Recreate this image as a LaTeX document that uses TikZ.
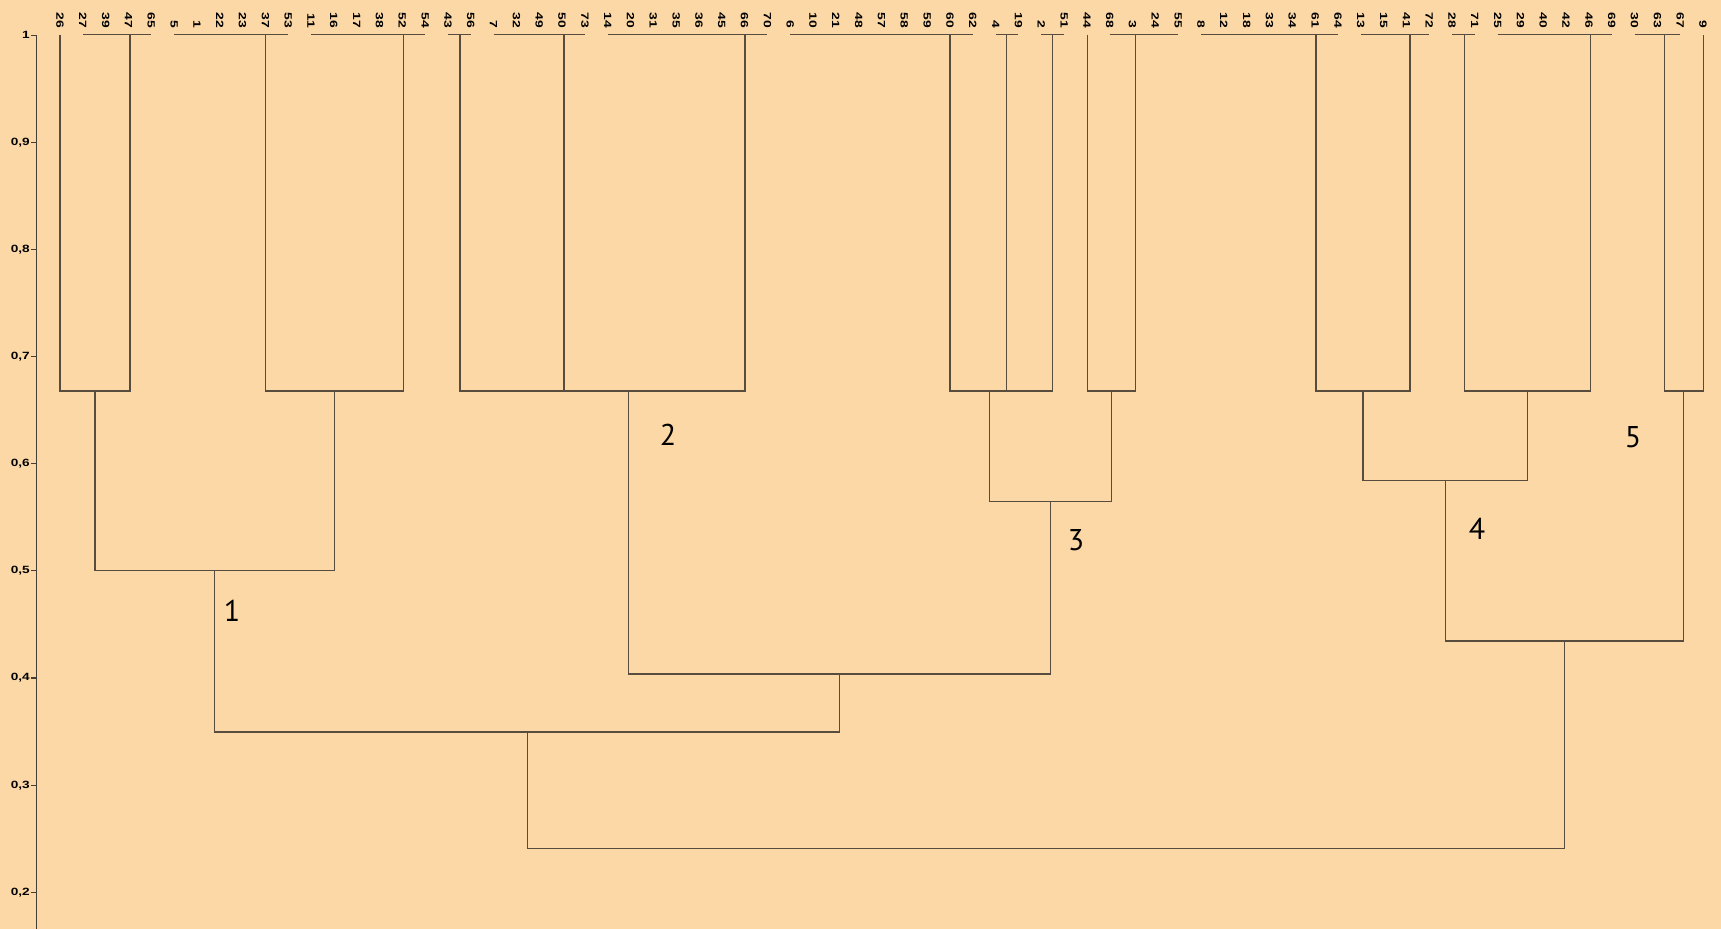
\documentclass[tikz,border=0pt]{standalone}
\usepackage{graphicx}
\usepackage{fontspec}
\newfontfamily\lblfont{Liberation Sans}
\newfontfamily\clfont{PT Sans}
\definecolor{bg}{RGB}{252,216,166}
\definecolor{ln}{RGB}{88,76,62}
\definecolor{axc}{RGB}{70,62,52}
\tikzset{
  leaf/.style={rotate=-90, anchor=east, inner sep=0pt, text=black,
    font=\lblfont\bfseries\fontsize{10.5}{11}\selectfont},
  axlab/.style={anchor=east, inner sep=0pt, text=black,
    font=\lblfont\bfseries\fontsize{10.5}{11}\selectfont},
  cllab/.style={inner sep=0pt, text=black, font=\clfont\fontsize{30}{32}\selectfont},
  link/.style={draw=ln, line width=1.1pt},
  axis/.style={draw=axc, line width=1.2pt}
}
\begin{document}
\begin{tikzpicture}[x=1pt,y=-1pt]
\fill[bg] (0,0) rectangle (1721,929);
\useasboundingbox (0,0) rectangle (1721,929);
% leaves
\foreach \lab [count=\i from 0] in {26,27,39,47,65,5,1,22,23,37,53,11,16,17,38,52,54,43,56,7,32,49,50,73,14,20,31,35,36,45,66,70,6,10,21,48,57,58,59,60,62,4,19,2,51,44,68,3,24,55,8,12,18,33,34,61,64,13,15,41,72,28,71,25,29,40,42,46,69,30,63,67,9}{
  \node[leaf] (leaf\i) at ({60+22.82*\i},28) {\scalebox{1.32}[1]{\lab}};
  \coordinate (b\i) at ({60+22.82*\i},34.5);
}
% level-1 groups
\foreach \k/\a/\b/\vx in {1/0/0/60, 2/1/4/130, 3/5/10/265.7, 4/11/16/403.3, 5/17/18/460, 6/19/23/564, 7/24/31/745, 8/32/40/950, 9/41/42/1006.7, 10/43/44/1052.7, 11/45/45/1087.3, 12/46/49/1135.5, 13/50/56/1316, 14/57/60/1410, 15/61/62/1464.3, 16/63/68/1590.7, 17/69/71/1664.3, 18/72/72/1703.3}{
  \coordinate (g\k) at (\vx,34.5);
  \ifnum\a<\b \draw[link] (b\a) -- (b\b); \fi
}
% merge points
\coordinate (A) at (95,391);
\coordinate (B) at (334.5,391);
\coordinate (C1) at (512,391);
\coordinate (C) at (628.5,391);
\coordinate (D1) at (1029.7,391);
\coordinate (D) at (989.85,391);
\coordinate (E) at (1111.4,391);
\coordinate (F) at (1363,391);
\coordinate (G) at (1527.5,391);
\coordinate (H) at (1683.8,391);
\coordinate (AB) at (214.75,570.7);
\coordinate (DE) at (1050.6,501.6);
\coordinate (FG) at (1445.25,480.7);
\coordinate (FGH) at (1564.5,641);
\coordinate (CDE) at (839.5,674);
\coordinate (ABCDE) at (527.1,732);
\coordinate (R) at (1045.8,848.5);
% links
\draw[link] (g1) |- (A) -| (g2);
\draw[link] (g3) |- (B) -| (g4);
\draw[link] (g5) |- (C1) -| (g6);
\draw[link] (C1) |- (C) -| (g7);
\draw[link] (g9) |- (D1) -| (g10);
\draw[link] (g8) |- (D) -| (D1);
\draw[link] (g11) |- (E) -| (g12);
\draw[link] (g13) |- (F) -| (g14);
\draw[link] (g15) |- (G) -| (g16);
\draw[link] (g17) |- (H) -| (g18);
\draw[link] (A) |- (AB) -| (B);
\draw[link] (D) |- (DE) -| (E);
\draw[link] (F) |- (FG) -| (G);
\draw[link] (FG) |- (FGH) -| (H);
\draw[link] (C) |- (CDE) -| (DE);
\draw[link] (AB) |- (ABCDE) -| (CDE);
\draw[link] (ABCDE) |- (R) -| (FGH);
% axis
\coordinate (axtop) at (36.5,35.1);
\coordinate (axbot) at (36.5,929);
\draw[axis] (axtop) -- (axbot);
\foreach \t [count=\k from 0] in {1,{0,9},{0,8},{0,7},{0,6},{0,5},{0,4},{0,3},{0,2}}{
  \coordinate (tk\k) at (31,{35.1+107.15*\k});
  \coordinate (ta\k) at (36.5,{35.1+107.15*\k});
  \draw[axis] (tk\k) -- (ta\k);
  \node[axlab] (tl\k) at (30,{35.1+107.15*\k}) {\scalebox{1.3}[1]{\t}};
}
% cluster labels
\node[cllab] (c1) at (232,611) {1};
\node[cllab] (c2) at (668,435) {2};
\node[cllab] (c3) at (1076,540) {3};
\node[cllab] (c4) at (1477,529) {4};
\node[cllab] (c5) at (1633,437) {5};
\end{tikzpicture}
\end{document}
